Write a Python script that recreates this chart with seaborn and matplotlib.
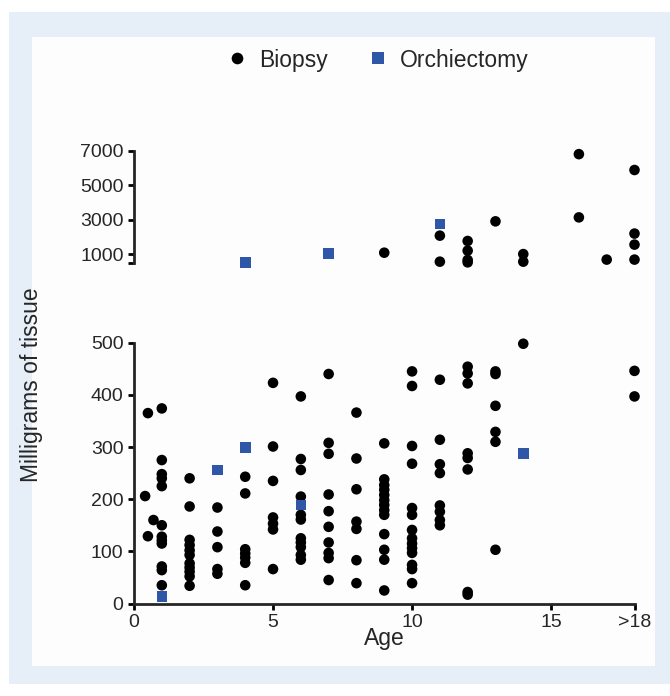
import numpy as np
import pandas as pd
import matplotlib
matplotlib.use('Agg')
import matplotlib.pyplot as plt
import seaborn as sns
from matplotlib.patches import Rectangle

# --- data (age in years, milligrams of tissue) ---
biopsy_age = ([0.5, 0.4, 0.7, 0.5]
              + [1] * 12 + [2] * 11 + [3] * 5 + [4] * 7 + [5] * 7 + [6] * 11
              + [7] * 10 + [8] * 7 + [9] * 14 + [10] * 14 + [11] * 10 + [12] * 12
              + [13] * 7 + [14] * 3 + [16] * 2 + [17] + [18] * 6)
biopsy_mg = ([365, 206, 160, 129]
             + [374, 275, 248, 240, 225, 150, 128, 121, 115, 71, 64, 35]
             + [240, 186, 122, 112, 102, 93, 77, 69, 61, 52, 34]
             + [184, 138, 108, 66, 57]
             + [243, 211, 104, 96, 88, 78, 35]
             + [423, 301, 235, 165, 153, 142, 66]
             + [397, 277, 256, 205, 170, 161, 125, 117, 108, 93, 84]
             + [440, 308, 287, 209, 177, 147, 117, 97, 87, 45]
             + [366, 278, 219, 157, 143, 83, 39]
             + [1080, 307, 238, 227, 218, 208, 198, 189, 179, 170, 133, 103, 84, 25]
             + [445, 417, 302, 268, 183, 170, 141, 125, 115, 106, 97, 74, 66, 39]
             + [2070, 560, 429, 314, 267, 250, 188, 176, 160, 150]
             + [1760, 1200, 660, 520, 454, 441, 422, 288, 279, 257, 22, 17]
             + [2900, 445, 440, 379, 329, 310, 103]
             + [1000, 560, 498]
             + [6800, 3130]
             + [680]
             + [5880, 2190, 1550, 680, 446, 397])

orchi_age = [1, 3, 4, 6, 14, 4, 7, 11]
orchi_mg = [13, 256, 299, 189, 288, 520, 1050, 2750]

x_ticks = [0, 5, 10, 15, 18]
x_labels = ['0', '5', '10', '15', '>18']
low_ticks = [0, 100, 200, 300, 400, 500]
high_ticks = [1000, 3000, 5000, 7000]

df = pd.concat([
    pd.DataFrame({'Age': biopsy_age, 'mg': biopsy_mg, 'Procedure': 'Biopsy'}),
    pd.DataFrame({'Age': orchi_age, 'mg': orchi_mg, 'Procedure': 'Orchiectomy'}),
], ignore_index=True)

sns.set_style('ticks')
plt.rcParams['font.family'] = ['Liberation Sans', 'DejaVu Sans']

W, H = 670, 696
fig = plt.figure(figsize=(W / 100, H / 100), dpi=100)
fig.patch.set_facecolor('white')

# light blue frame with white panel
fig.patches.append(Rectangle((9 / W, 1 - 684 / H), (W - 9) / W, 672 / H,
                             transform=fig.transFigure, facecolor='#e6eef8',
                             edgecolor='none', zorder=-2))
fig.patches.append(Rectangle((32 / W, 1 - 666 / H), 623 / W, 629 / H,
                             transform=fig.transFigure, facecolor='#fdfdfe',
                             edgecolor='none', zorder=-1))

left = 134 / W
width = 500.5 / W
ax_lo = fig.add_axes([left, 1 - 603.5 / H, width, 260.8 / H])
ax_hi = fig.add_axes([left, 1 - 262.7 / H, width, 112 / H])

palette = {'Biopsy': 'black', 'Orchiectomy': '#2f57a8'}
markers = {'Biopsy': 'o', 'Orchiectomy': 's'}

lo = df[df['mg'] <= 500]
hi = df[df['mg'] > 500]

for ax, d, show in [(ax_lo, lo, True), (ax_hi, hi, False)]:
    ax.set_facecolor('none')
    sns.scatterplot(data=d, x='Age', y='mg', hue='Procedure', style='Procedure',
                    palette=palette, markers=markers, hue_order=['Biopsy', 'Orchiectomy'],
                    style_order=['Biopsy', 'Orchiectomy'],
                    s=58, linewidth=0, ax=ax, legend=show, clip_on=False, zorder=3)
    ax.set_xlim(0, 18)
    ax.set_xlabel('')
    ax.set_ylabel('')
    for side in ['top', 'right']:
        ax.spines[side].set_visible(False)
    for side in ['left', 'bottom']:
        ax.spines[side].set_linewidth(2.0)
    ax.tick_params(width=2.0, length=4.5, labelsize=14, pad=3, color='black')

handles, labels = ax_lo.get_legend_handles_labels()
ax_lo.get_legend().remove()

ax_lo.set_ylim(0, 500)
ax_lo.set_yticks(low_ticks)
ax_lo.set_xticks(x_ticks)
ax_lo.set_xticklabels(x_labels)

ax_hi.set_ylim(500, 7000)
ax_hi.set_yticks(high_ticks + [500])
ax_hi.set_yticklabels([str(t) for t in high_ticks] + [''])
ax_hi.spines['bottom'].set_visible(False)
ax_hi.set_xticks([])

fig.text(384 / W, 1 - 638 / H, 'Age', ha='center', va='center', fontsize=16.5)
fig.text(32 / W, 1 - 385 / H, 'Milligrams of tissue', ha='center', va='center',
         rotation=90, fontsize=16.5)

leg = fig.legend(handles, labels, loc='center', bbox_to_anchor=(377 / W, 1 - 60 / H),
                 ncol=2, frameon=False, fontsize=16.5, columnspacing=1.7,
                 handlelength=1.0, handletextpad=0.45, markerscale=1.1)

fig.savefig('out.png', dpi=100, facecolor=fig.get_facecolor())
